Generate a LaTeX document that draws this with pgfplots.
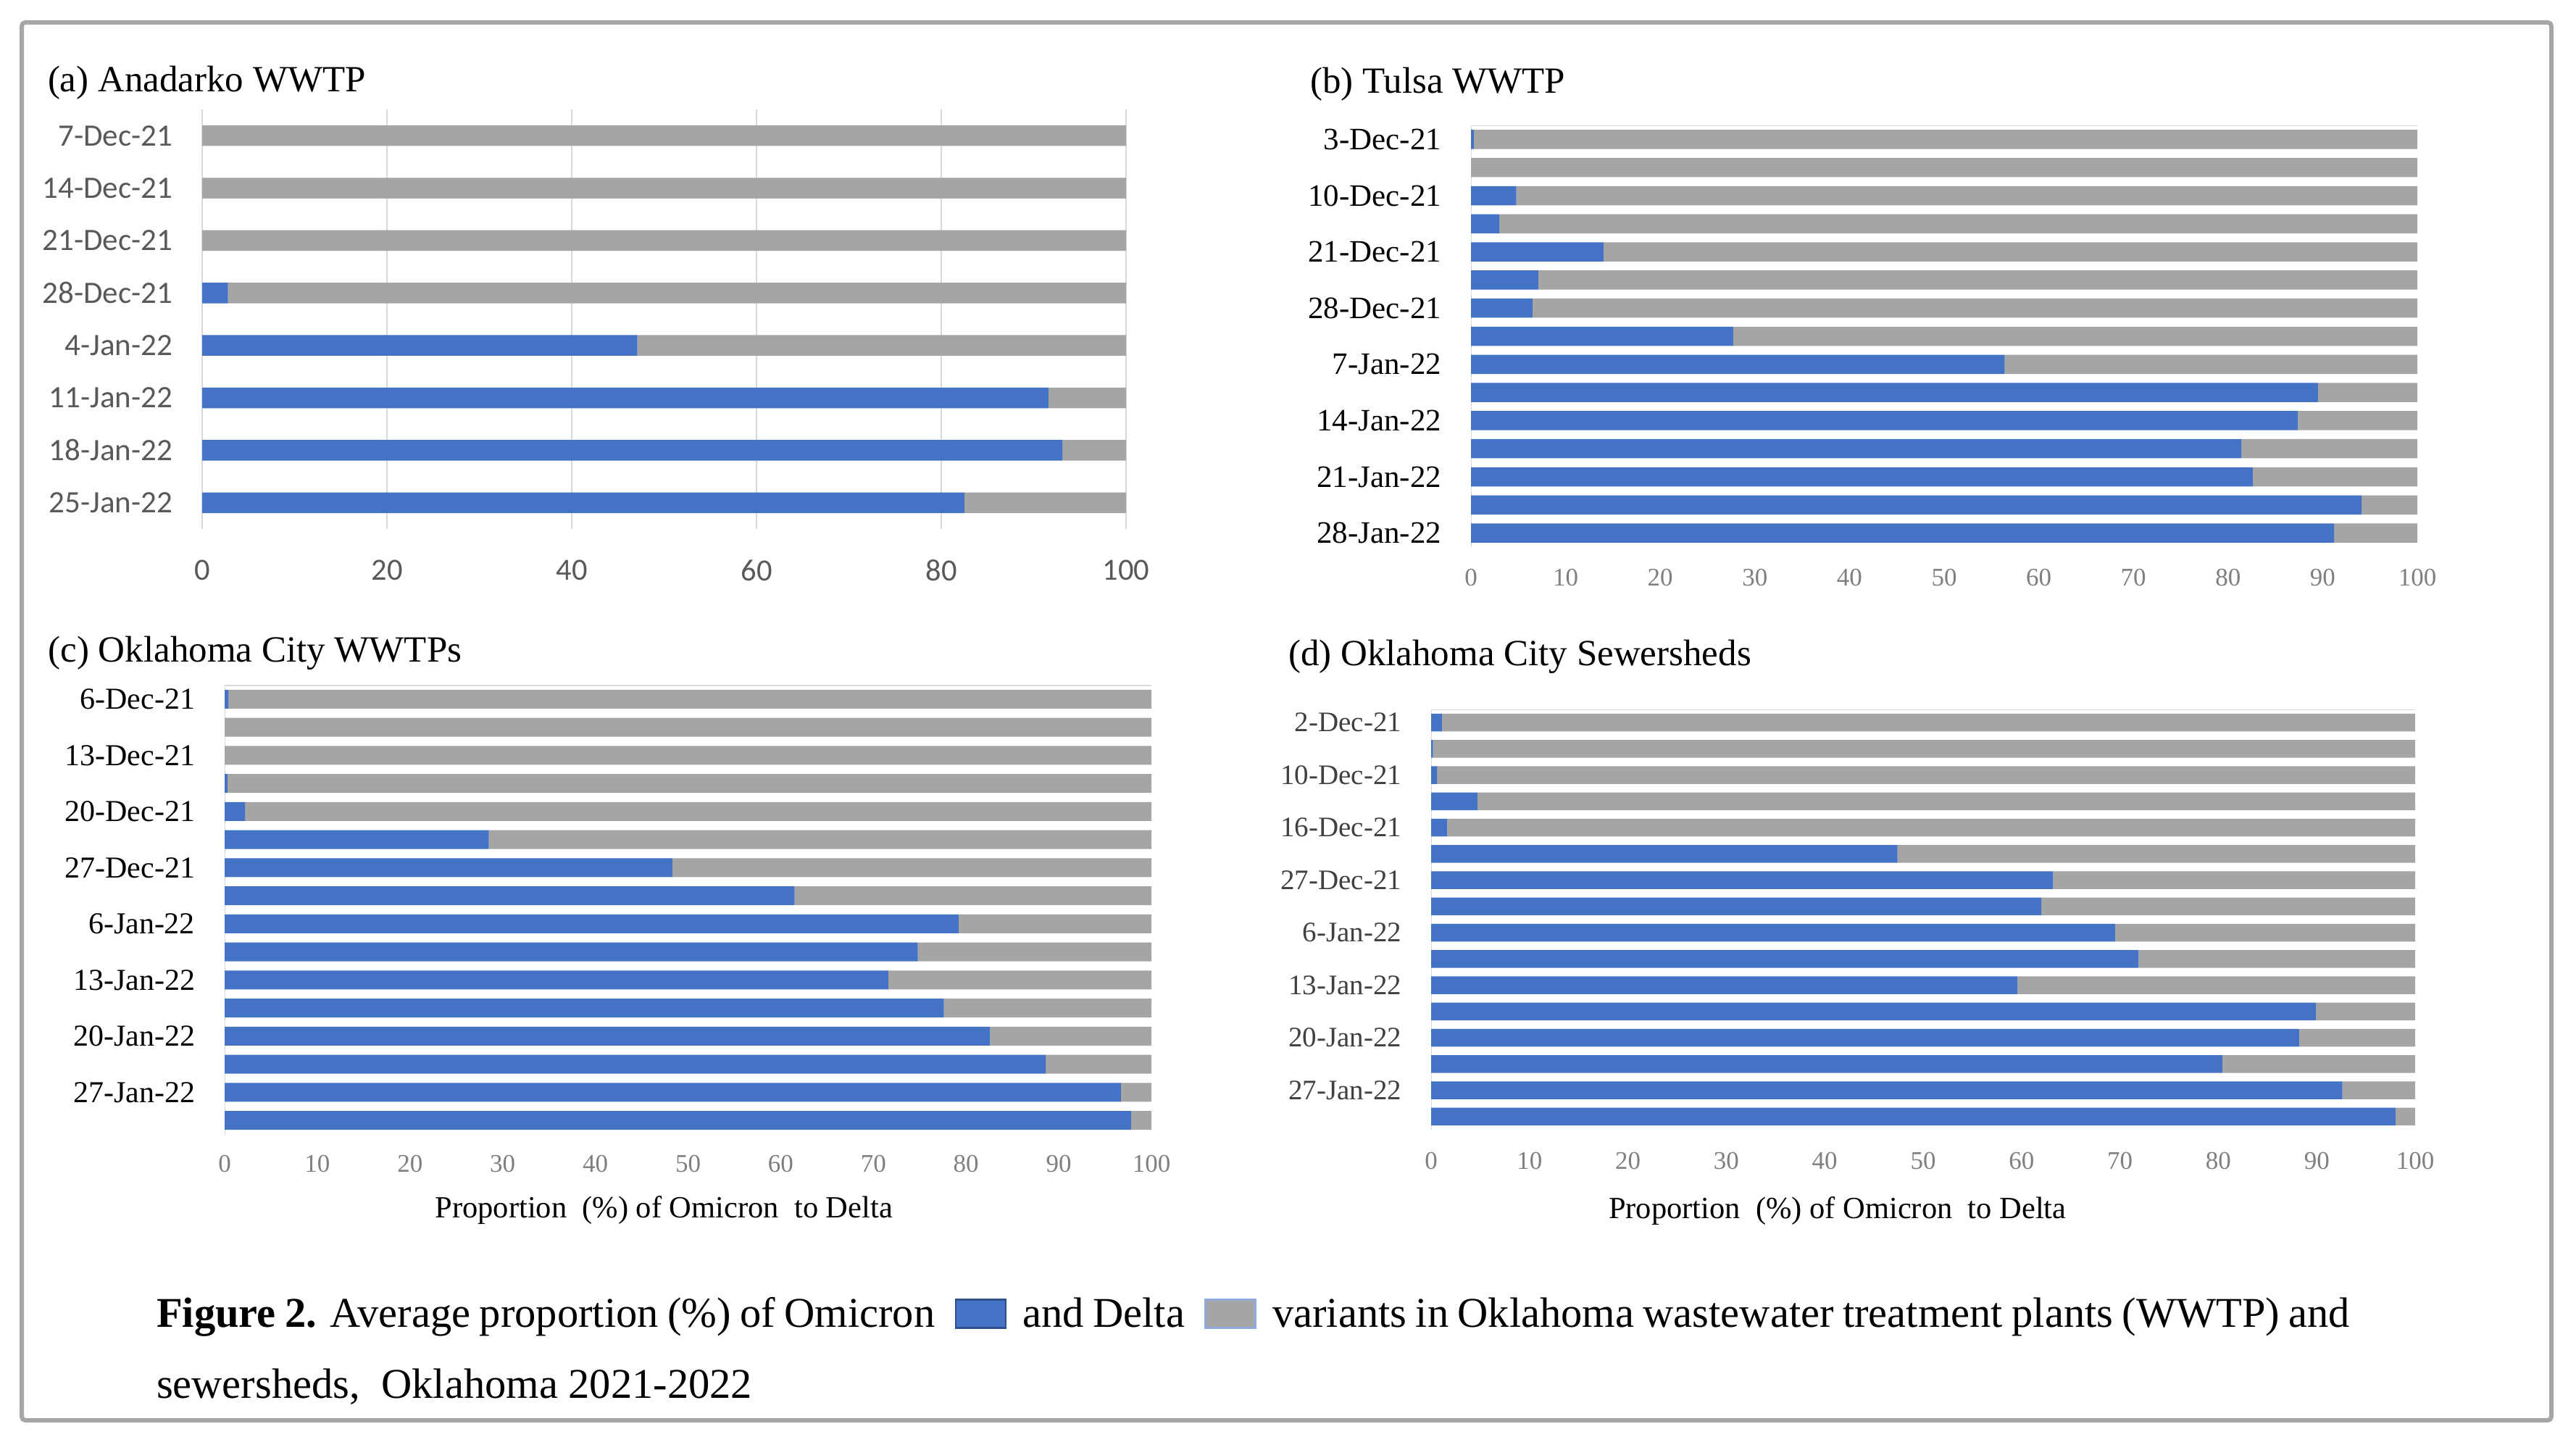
\documentclass[border=0pt]{standalone}
\usepackage{pgfplots}
\pgfplotsset{compat=1.18}
\usepackage{fontspec}
\setmainfont{Liberation Serif}
\newfontfamily\carlito{Carlito}

\definecolor{omblue}{HTML}{4472C4}
\definecolor{deltagray}{HTML}{A5A5A5}
\definecolor{gridgray}{HTML}{D9D9D9}
\definecolor{lblgray}{HTML}{595959}
\definecolor{tickgray}{HTML}{7F7F7F}
\definecolor{bordergray}{HTML}{A6A6A6}

\newcommand{\fs}[1]{\fontsize{#1}{#1}\selectfont}
\newcommand{\legbox}[2]{{\setlength{\fboxsep}{0pt}\setlength{\fboxrule}{0.5pt}\fcolorbox{#2}{#1}{\rule{0pt}{7.3pt}\hspace{13.3pt}}}}

\pgfplotsset{
  panel/.style={
    xbar stacked, scale only axis, anchor=south west,
    xmin=0, xmax=100, y dir=reverse,
    axis line style={draw=none}, major tick length=0pt,
    /pgf/number format/assume math mode=true,
    yticklabel style={anchor=east, inner sep=0pt, xshift=-8pt},
    xticklabel style={anchor=center, inner sep=0pt},
  },
  om/.style={fill=omblue, draw=none},
  de/.style={fill=deltagray, draw=none},
  timesticks/.style={
    xtick={0,10,...,100},
    xticklabel style={font=\fs{7}, text=tickgray},
  },
}

\begin{document}
\begin{tikzpicture}
\path[use as bounding box] (0,0) rectangle (711pt,400pt);
\draw[bordergray, line width=1.2pt, rounded corners=1pt] (6pt,8pt) rectangle (704.2pt,393.8pt);

% (a) Anadarko
\begin{axis}[panel, at={(55.8pt,254pt)}, width=255pt, height=115.8pt,
  ymin=-0.5, ymax=7.5, bar width=5.7pt,
  xtick={0,20,...,100}, xmajorgrids, major grid style={gridgray, line width=0.5pt},
  xticklabel style={font=\carlito\fs{8.5}, text=lblgray, yshift=-11.4pt},
  ytick={0,...,7},
  yticklabels={7-Dec-21,14-Dec-21,21-Dec-21,28-Dec-21,4-Jan-22,11-Jan-22,18-Jan-22,25-Jan-22},
  yticklabel style={font=\carlito\fs{8.6}, text=lblgray},
]
\addplot[om] coordinates {(0,0) (0,1) (0,2) (2.8,3) (47.1,4) (91.6,5) (93.1,6) (82.5,7)};
\addplot[de] coordinates {(100,0) (100,1) (100,2) (97.2,3) (52.9,4) (8.4,5) (6.9,6) (17.5,7)};
\end{axis}

% (b) Tulsa
\begin{axis}[panel, timesticks, at={(406pt,249pt)}, width=261.2pt, height=116.4pt,
  ymin=-0.5, ymax=14.5, bar width=5.3pt,
  xticklabel style={yshift=-8.4pt},
  ytick={0,2,...,14},
  yticklabels={3-Dec-21,10-Dec-21,21-Dec-21,28-Dec-21,7-Jan-22,14-Jan-22,21-Jan-22,28-Jan-22},
  yticklabel style={font=\fs{8.6}, text=black},
]
\addplot[om] coordinates {(0.3,0) (0,1) (4.8,2) (3.0,3) (14.0,4) (7.1,5) (6.5,6) (27.7,7)
  (56.4,8) (89.5,9) (87.4,10) (81.4,11) (82.6,12) (94.1,13) (91.2,14)};
\addplot[de] coordinates {(99.7,0) (100,1) (95.2,2) (97.0,3) (86.0,4) (92.9,5) (93.5,6) (72.3,7)
  (43.6,8) (10.5,9) (12.6,10) (18.6,11) (17.4,12) (5.9,13) (8.8,14)};
\draw[gridgray, line width=0.5pt] (rel axis cs:0,0) -- (rel axis cs:0,1) -- (rel axis cs:1,1);
\end{axis}

% (c) Oklahoma City WWTPs
\begin{axis}[panel, timesticks, at={(62pt,86.9pt)}, width=255.8pt, height=124pt,
  ymin=-0.5, ymax=15.5, bar width=5.2pt,
  xticklabel style={yshift=-8.1pt},
  ytick={0,2,...,14},
  yticklabels={6-Dec-21,13-Dec-21,20-Dec-21,27-Dec-21,6-Jan-22,13-Jan-22,20-Jan-22,27-Jan-22},
  yticklabel style={font=\fs{8.4}, text=black},
  xlabel={Proportion\ \ (\%) of Omicron\ \ to Delta},
  xlabel style={at={(axis description cs:0.474,0)}, anchor=center, yshift=-20.9pt, font=\fs{8.5}},
]
\addplot[om] coordinates {(0.4,0) (0,1) (0,2) (0.3,3) (2.2,4) (28.5,5) (48.3,6) (61.5,7)
  (79.2,8) (74.8,9) (71.6,10) (77.6,11) (82.6,12) (88.6,13) (96.7,14) (97.8,15)};
\addplot[de] coordinates {(99.6,0) (100,1) (100,2) (99.7,3) (97.8,4) (71.5,5) (51.7,6) (38.5,7)
  (20.8,8) (25.2,9) (28.4,10) (22.4,11) (17.4,12) (11.4,13) (3.3,14) (2.2,15)};
\draw[gridgray, line width=0.5pt] (rel axis cs:0,0) -- (rel axis cs:0,1) -- (rel axis cs:1,1);
\end{axis}

% (d) Oklahoma City Sewersheds
\begin{axis}[panel, timesticks, at={(395pt,88.2pt)}, width=271.6pt, height=116pt,
  ymin=-0.5, ymax=15.5, bar width=4.9pt,
  xticklabel style={yshift=-8.6pt},
  ytick={0,2,...,14},
  yticklabels={2-Dec-21,10-Dec-21,16-Dec-21,27-Dec-21,6-Jan-22,13-Jan-22,20-Jan-22,27-Jan-22},
  yticklabel style={font=\fs{7.8}, text=black!75},
  xlabel={Proportion\ \ (\%) of Omicron\ \ to Delta},
  xlabel style={at={(axis description cs:0.413,0)}, anchor=center, yshift=-22.4pt, font=\fs{8.5}},
]
\addplot[om] coordinates {(1.1,0) (0.2,1) (0.6,2) (4.7,3) (1.6,4) (47.4,5) (63.2,6) (62.0,7)
  (69.5,8) (71.9,9) (59.6,10) (89.9,11) (88.2,12) (80.4,13) (92.6,14) (98.0,15)};
\addplot[de] coordinates {(98.9,0) (99.8,1) (99.4,2) (95.3,3) (98.4,4) (52.6,5) (36.8,6) (38.0,7)
  (30.5,8) (28.1,9) (40.4,10) (10.1,11) (11.8,12) (19.6,13) (7.4,14) (2.0,15)};
\draw[gridgray, line width=0.5pt] (rel axis cs:0,0) -- (rel axis cs:0,1) -- (rel axis cs:1,1);
\end{axis}

% panel titles
\node[anchor=west, inner sep=0pt, font=\fs{10.2}] at (13pt,377.2pt) {(a) Anadarko WWTP};
\node[anchor=west, inner sep=0pt, font=\fs{10.2}] at (361.4pt,376.7pt) {(b) Tulsa WWTP};
\node[anchor=west, inner sep=0pt, font=\fs{10.2}] at (13.1pt,219.8pt) {(c) Oklahoma City WWTPs};
\node[anchor=west, inner sep=0pt, font=\fs{10.2}] at (355.4pt,218.7pt) {(d) Oklahoma City Sewersheds};

% caption
\node[anchor=base west, inner sep=0pt, font=\fs{11.7}] at (43pt,33.8pt)
  {\makebox[605.4pt][s]{\textbf{Figure 2.} Average proportion (\%) of Omicron\hspace{3pt} \legbox{omblue}{omblue!70!black} \hspace{2pt}and Delta\hspace{3pt} \legbox{deltagray}{omblue!60} \hspace{2pt}variants in Oklahoma wastewater treatment plants (WWTP) and}};
\node[anchor=base west, inner sep=0pt, font=\fs{11.7}] at (43pt,14.2pt)
  {sewersheds,\ \ Oklahoma 2021-2022};
\end{tikzpicture}
\end{document}
